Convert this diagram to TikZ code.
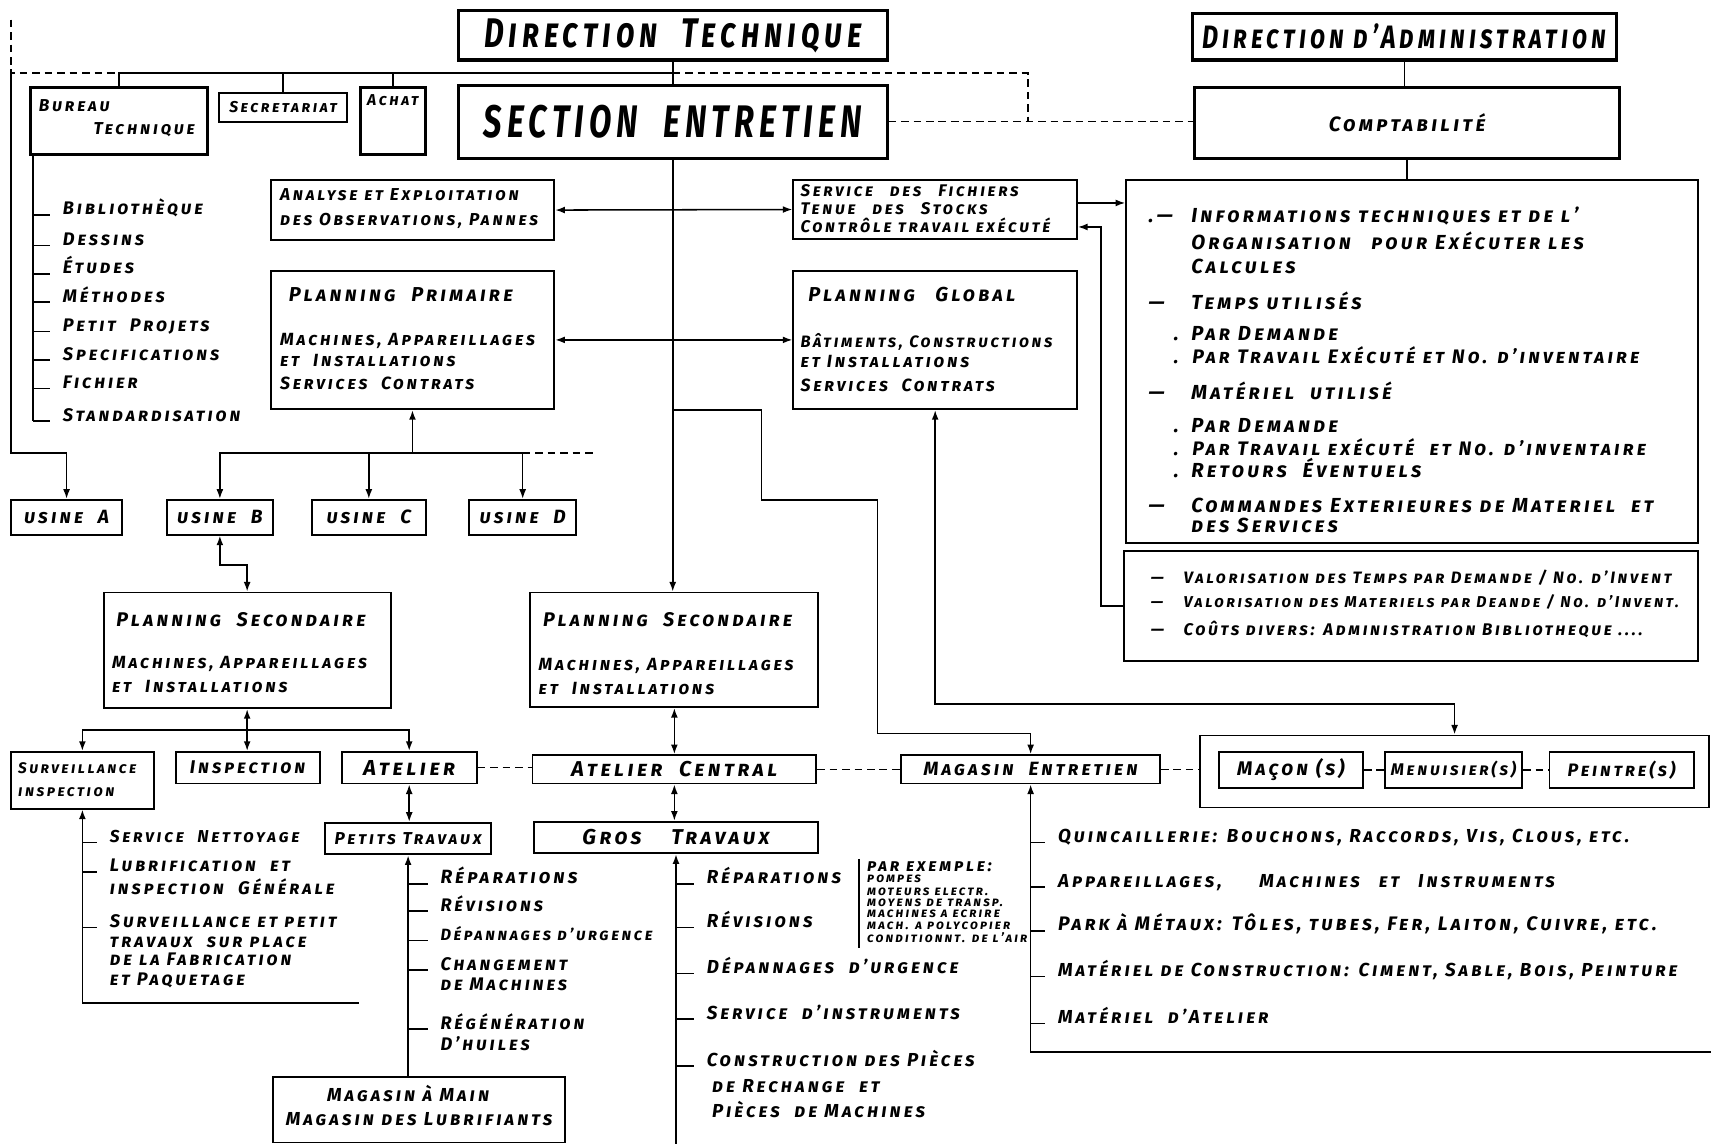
\documentclass[tikz,border=0pt]{standalone}
\usepackage{fontspec}
\newfontfamily\handfont{Fira Sans}[Letters=SmallCaps, LetterSpace=16, Ligatures=TeX]
\usetikzlibrary{positioning}
\usetikzlibrary{arrows.meta}
\usetikzlibrary{calc}
\newcommand{\hand}[2]{\handfont\itshape\bfseries\fontsize{#1}{#2}\selectfont}
\newcommand{\lmark}[2]{\makebox[#1][l]{#2}}

\begin{document}
\begin{tikzpicture}[x=0.02cm, y=-0.02cm, >={Latex[length=5pt,width=3.6pt]}, line width=0.8pt,
box/.style={draw, line width=1pt, inner sep=0pt},
bigbox/.style={draw, line width=1.6pt, inner sep=0pt},
item/.style={anchor=base west, inner xsep=0.22cm, inner ysep=0pt, font=\hand{9.5pt}{11pt}},
txt/.style={anchor=base west, inner sep=0pt, font=\hand{9.2pt}{11pt}},
dashline/.style={dash pattern=on 4pt off 2.5pt}]
\useasboundingbox (0,0) rectangle (1568,1048);

% directions
\node[bigbox, minimum width=7.86cm, minimum height=0.9cm, font=\hand{16pt}{17pt}] (dt) at (616.5,32.5) {\scalebox{1}[1.35]{Direction\ \ Technique}};
\node[bigbox, minimum width=7.76cm, minimum height=0.86cm, font=\hand{13pt}{15pt}] (da) at (1287,33.5) {\scalebox{1}[1.3]{Direction d'Administration}};
\node[bigbox, minimum width=7.86cm, minimum height=1.34cm, font=\hand{17pt}{18pt}] (se) at (616.5,111.5) {\scalebox{1}[1.4]{SECTION\ \ ENTRETIEN}};
\node[bigbox, minimum width=7.78cm, minimum height=1.3cm, font=\hand{10.8pt}{12pt}] (cpt) at (1289.5,112.5) {Comptabilité};

% staff
\node[bigbox, minimum width=3.24cm, minimum height=1.24cm] (bt) at (109,111) {};
\node[txt, font=\hand{9pt}{10pt}] (btt1) at (35,102) {Bureau};
\node[txt, font=\hand{9pt}{10pt}] (btt2) at (85,123) {Technique};
\node[box, minimum width=2.34cm, minimum height=0.54cm, font=\hand{8.2pt}{9pt}] (sec) at (259.5,98.5) {Secretariat};
\node[bigbox, minimum width=1.2cm, minimum height=1.24cm] (ach) at (360,111) {};
\node[below=0.14cm of ach.north, inner sep=0pt, font=\hand{8.2pt}{9pt}] (acht) {Achat};

% bureau technique list
\node[item] (bib) at (46,197) {Bibliothèque};
\node[item] (des) at (46,225) {Dessins};
\node[item] (etu) at (46,251) {Études};
\node[item] (met) at (46,277) {Méthodes};
\node[item] (ppr) at (46,304) {Petit\ \ Projets};
\node[item] (spe) at (46,330) {Specifications};
\node[item] (fch) at (46,356) {Fichier};
\node[item] (std) at (46,386) {Standardisation};

% analyse, fichiers
\node[box, minimum width=5.2cm, minimum height=1.1cm] (ana) at (378,192.5) {};
\node[txt, font=\hand{9pt}{10pt}] (ana1) at (256,184) {Analyse et Exploitation};
\node[txt, font=\hand{9pt}{10pt}] (ana2) at (256,207) {des Observations, Pannes};
\node[box, minimum width=5.2cm, minimum height=1.08cm] (fic) at (857,192) {};
\node[txt, font=\hand{8.8pt}{9pt}] (fic1) at (733,180) {Service\quad des\quad Fichiers};
\node[txt, font=\hand{8.8pt}{9pt}] (fic2) at (733,197) {Tenue\quad des\quad Stocks};
\node[txt, font=\hand{8.8pt}{9pt}] (fic3) at (733,213) {Contrôle travail exécuté};

% planning primaire / global
\node[box, minimum width=5.2cm, minimum height=2.54cm] (pp) at (378,311.5) {};
\node[txt, font=\hand{10.5pt}{12pt}] (ppt) at (264,276) {Planning\ \ Primaire};
\node[txt] (pp1) at (256,317) {Machines, Appareillages};
\node[txt] (pp2) at (256,336) {et\ \ Installations};
\node[txt] (pp3) at (256,357) {Services\ \ Contrats};
\node[box, minimum width=5.2cm, minimum height=2.54cm] (pg) at (857,311.5) {};
\node[txt, font=\hand{10.5pt}{12pt}] (pgt) at (740,276) {Planning\quad Global};
\node[txt, font=\hand{8.6pt}{11pt}] (pg1) at (733,318) {Bâtiments, Constructions};
\node[txt] (pg2) at (733,337) {et Installations};
\node[txt] (pg3) at (733,359) {Services\ \ Contrats};

% comptabilite boxes
\node[box, minimum width=10.48cm, minimum height=6.66cm] (info) at (1294,331.5) {};
\node[txt, font=\hand{10.6pt}{11pt}] (i1) at (1052,204) {\lmark{0.78cm}{.\,---}Informations techniques et de l'};
\node[txt, font=\hand{10.6pt}{11pt}] (i2) at (1091,229) {Organisation\quad pour Exécuter les};
\node[txt, font=\hand{10.6pt}{11pt}] (i3) at (1091,251) {Calcules};
\node[txt, font=\hand{10.6pt}{11pt}] (i4) at (1052,284) {\lmark{0.78cm}{---}Temps utilisés};
\node[txt, font=\hand{10.6pt}{11pt}] (i5) at (1075,312) {\lmark{0.32cm}{.}Par Demande};
\node[txt, font=\hand{10.2pt}{11pt}] (i6) at (1075,333) {\lmark{0.34cm}{.}Par Travail Exécuté et No. d'inventaire};
\node[txt, font=\hand{10.6pt}{11pt}] (i7) at (1052,366) {\lmark{0.78cm}{---}Matériel\ \ utilisé};
\node[txt, font=\hand{10.6pt}{11pt}] (i8) at (1075,396) {\lmark{0.32cm}{.}Par Demande};
\node[txt, font=\hand{10.2pt}{11pt}] (i9) at (1075,417) {\lmark{0.34cm}{.}Par Travail exécuté\ \ et No. d'inventaire};
\node[txt, font=\hand{10.6pt}{11pt}] (i10) at (1075,438) {\lmark{0.32cm}{.}Retours\ \ Éventuels};
\node[txt, font=\hand{10.6pt}{11pt}] (i11) at (1052,470) {\lmark{0.78cm}{---}Commandes Exterieures de Materiel\ \ et};
\node[txt, font=\hand{10.6pt}{11pt}] (i12) at (1091,488) {des Services};
\node[box, minimum width=10.52cm, minimum height=2.02cm] (val) at (1293,555.5) {};
\node[txt, font=\hand{8.6pt}{9pt}] (v1) at (1054,535) {\lmark{0.6cm}{---}Valorisation des Temps par Demande / No. d'Invent};
\node[txt, font=\hand{8.2pt}{9pt}] (v2) at (1054,557) {\lmark{0.6cm}{---}Valorisation des Materiels par Deande / No. d'Invent.};
\node[txt, font=\hand{8.8pt}{9pt}] (v3) at (1054,582) {\lmark{0.6cm}{---}Coûts divers: Administration Bibliotheque ....};

% usines
\node[box, minimum width=2.04cm, minimum height=0.64cm, font=\hand{10pt}{11pt}] (usA) at (61,474) {usine\ \ A};
\node[box, minimum width=1.94cm, minimum height=0.64cm, font=\hand{10pt}{11pt}] (usB) at (201.5,474) {usine\ \ B};
\node[box, minimum width=2.08cm, minimum height=0.64cm, font=\hand{10pt}{11pt}] (usC) at (338,474) {usine\ \ C};
\node[box, minimum width=1.96cm, minimum height=0.64cm, font=\hand{10pt}{11pt}] (usD) at (479,474) {usine\ \ D};

% planning secondaire
\node[box, minimum width=5.26cm, minimum height=2.12cm] (psl) at (226.5,596) {};
\node[txt, font=\hand{10.3pt}{12pt}] (pslt) at (106,574) {Planning\ \ Secondaire};
\node[txt] (psl1) at (102,613) {Machines, Appareillages};
\node[txt] (psl2) at (102,635) {et\ \ Installations};
\node[box, minimum width=5.28cm, minimum height=2.1cm] (psm) at (618,595.5) {};
\node[txt, font=\hand{10.3pt}{12pt}] (psmt) at (497,574) {Planning\ \ Secondaire};
\node[txt] (psm1) at (493,614) {Machines, Appareillages};
\node[txt] (psm2) at (493,636) {et\ \ Installations};

% execution row
\node[box, minimum width=2.62cm, minimum height=1.04cm] (sur) at (75.5,715) {};
\node[txt, font=\hand{8pt}{9pt}] (surb1) at (16,709) {Surveillance};
\node[txt, font=\hand{8pt}{9pt}] (surb2) at (16,730) {inspection};
\node[box, minimum width=2.64cm, minimum height=0.58cm, font=\hand{9.6pt}{10pt}] (ins) at (227,703.5) {Inspection};
\node[box, minimum width=2.48cm, minimum height=0.58cm, font=\hand{11.3pt}{12pt}] (ate) at (375,703.5) {Atelier};
\node[box, minimum width=5.2cm, minimum height=0.52cm, font=\hand{11.2pt}{12pt}] (ac) at (618,705) {Atelier\ \ Central};
\node[box, minimum width=4.74cm, minimum height=0.52cm, font=\hand{10pt}{11pt}] (me) at (944.5,705) {Magasin\ \ Entretien};
\node[box, minimum width=9.32cm, minimum height=1.32cm] (grp) at (1333,707) {};
\node[box, minimum width=2.64cm, minimum height=0.66cm, font=\hand{10.3pt}{11pt}] (mac) at (1183,705.5) {Maçon (s)};
\node[box, minimum width=2.52cm, minimum height=0.66cm, font=\hand{8.8pt}{9pt}] (men) at (1332,705.5) {Menuisier(s)};
\node[box, minimum width=2.64cm, minimum height=0.66cm, font=\hand{9.4pt}{10pt}] (pei) at (1486,705.5) {Peintre(s)};
\node[box, minimum width=3.04cm, minimum height=0.58cm, font=\hand{9pt}{10pt}] (pt) at (374,768.5) {Petits Travaux};
\node[box, minimum width=5.22cm, minimum height=0.58cm, font=\hand{11.2pt}{12pt}] (gt) at (619.5,767.5) {Gros\quad\ Travaux};
\node[box, minimum width=5.36cm, minimum height=1.2cm] (mm) at (384,1017) {};
\node[anchor=base, inner sep=0pt, font=\hand{9.8pt}{10pt}] (mm1) at (374,1009) {Magasin à Main};
\node[anchor=base, inner sep=0pt, font=\hand{9.8pt}{10pt}] (mm2) at (384,1031) {Magasin des Lubrifiants};

% surveillance list
\node[item, font=\hand{9pt}{11pt}] (snet) at (89,772) {Service\ \ Nettoyage};
\node[item] (lub1) at (89,799) {Lubrification\ \ et};
\node[item] (lub2) at (89,820) {inspection\ \ Générale};
\node[item] (svp1) at (89,850) {Surveillance et petit};
\node[item] (svp2) at (89,868) {travaux\ \ sur place};
\node[item] (svp3) at (89,885) {de la Fabrication};
\node[item] (svp4) at (89,903) {et Paquetage};

% petits travaux list
\node[item, font=\hand{10pt}{11pt}] (rep1) at (392,810) {Réparations};
\node[item] (rev1) at (392,835) {Révisions};
\node[item, font=\hand{8.5pt}{10pt}] (dep1) at (392,862) {Dépannages d'urgence};
\node[item] (chg1) at (392,889) {Changement};
\node[item] (chg2) at (392,908) {de Machines};
\node[item] (reg1) at (392,943) {Régénération};
\node[item] (reg2) at (392,963) {D'huiles};

% gros travaux list
\node[item, font=\hand{9.8pt}{11pt}] (grep) at (636,810) {Réparations};
\node[item, font=\hand{9.8pt}{11pt}] (grev) at (636,850) {Révisions};
\node[item, font=\hand{9.8pt}{11pt}] (gdep) at (636,892) {Dépannages\ \ d'urgence};
\node[item, font=\hand{9.8pt}{11pt}] (gser) at (636,934) {Service\ \ d'instruments};
\node[item, font=\hand{9.8pt}{11pt}] (gcon1) at (636,977) {Construction des Pièces};
\node[item, font=\hand{9.8pt}{11pt}] (gcon2) at (641,1001) {de Rechange\ \ et};
\node[item, font=\hand{9.8pt}{11pt}] (gcon3) at (641,1024) {Pièces\ \ de Machines};
\node[txt, font=\hand{9pt}{9pt}] (ex0) at (794,799) {par exemple:};
\node[txt, font=\hand{6.8pt}{7pt}] (ex1) at (794,809) {pompes};
\node[txt, font=\hand{6.8pt}{7pt}] (ex2) at (794,821) {moteurs electr.};
\node[txt, font=\hand{6.8pt}{7pt}] (ex3) at (794,831) {moyens de transp.};
\node[txt, font=\hand{6.8pt}{7pt}] (ex4) at (794,841) {machines a ecrire};
\node[txt, font=\hand{6.8pt}{7pt}] (ex5) at (794,852) {mach. a polycopier};
\node[txt, font=\hand{6.8pt}{7pt}] (ex6) at (794,864) {conditionnt. de l'air};

% magasin list
\node[item, font=\hand{9.8pt}{10pt}] (mq) at (958,772) {Quincaillerie: Bouchons, Raccords, Vis, Clous, etc.};
\node[item, font=\hand{9.8pt}{10pt}] (ma) at (958,813) {Appareillages,\qquad Machines\quad et\quad Instruments};
\node[item, font=\hand{10.2pt}{10pt}] (mp) at (958,853) {Park à Métaux: Tôles, tubes, Fer, Laiton, Cuivre, etc.};
\node[item, font=\hand{9.8pt}{10pt}] (mc) at (958,895) {Matériel de Construction: Ciment, Sable, Bois, Peinture};
\node[item, font=\hand{9.8pt}{10pt}] (md) at (958,938) {Matériel\ \ d'Atelier};

% top links
\coordinate (busl) at (10,67);
\coordinate (topl) at (10,18);
\coordinate (busr) at (616.5,67);
\coordinate (dashj) at (942,111.5);
\draw (dt.south) -- (se.north);
\draw (bt.north) |- (busr);
\draw (sec.north) -- (sec.north |- busr);
\draw (ach.north) -- (ach.north |- busr);
\draw[dashline] (topl) -- (busl) -- (bt.north |- busr);
\draw[dashline] (busr) -| (dashj);
\draw[dashline] (se.east) -- (se.east -| cpt.west);
\draw (da.south) -- (da.south |- cpt.north);
\draw (cpt.south) -- (cpt.south |- info.north);

% bureau technique ticks
\coordinate (btl) at (30,142);
\draw (btl) -- (btl |- std.base west);
\foreach \n in {bib,des,etu,met,ppr,spe,fch,std} \draw (btl |- \n.base west) -- (\n.base west);

% section links
\draw[->] (se.south) -- (se.south |- psm.north);
\draw[<->] (ana.east) -- (fic.west);
\draw[<->] (pp.east) -- (pg.west);
\coordinate (ficout) at ($(fic.east)+(0,-6)$);
\coordinate (ficin) at ($(fic.east)+(0,16)$);
\draw[->] (ficout) -- (ficout -| info.west);
\draw[->] (val.west) -- ++(-20,0) |- (ficin);
\draw[->] (se.south |- pp.south) -| (698,458) -| (804,672) -| (me.north);
\draw[<->] (pg.south) |- ($(grp.north)+(0,-28)$) -- (grp.north);

% usines
\coordinate (pbus) at (378,415);
\coordinate (pbusr) at (546,415);
\draw[->] (busl) |- (usA.north |- pbus) -- (usA.north);
\draw[<-] (pp.south) -- (pbus);
\draw[->] (pbus) -| (usB.north);
\draw[->] (pbus) -| (usD.north);
\draw[->] (usC.north |- pbus) -- (usC.north);
\draw[dashline] (usD.north |- pbus) -- (pbusr);
\draw[<->] (usB.south) -- ++(0,27) -| (psl.north);

% lower links
\coordinate (sbus) at (226.5,669);
\draw[<->] (psl.south) -- (psl.south |- ins.north);
\draw[->] (sbus) -| (sur.north);
\draw[->] (sbus) -| (ate.north);
\draw[<->] (ate.south) -- (ate.south |- pt.north);
\draw[<->] (psm.south) -- (psm.south |- ac.north);
\draw[<->] (ac.south) -- (ac.south |- gt.north);
\draw[dashline] (ate.east) -- (ate.east -| ac.west);
\draw[dashline] (ac.east) -- (me.west);
\draw[dashline] (me.east) -- (me.east -| grp.west);
\draw[dashline] (mac.east) -- (men.west);
\draw[dashline] (men.east) -- (pei.west);

% lists
\coordinate (surend) at (329,919);
\draw[<-] (sur.south) |- (surend);
\foreach \n in {snet,lub1,svp1} \draw (sur.south |- \n.base west) -- (\n.base west);
\draw[<-] (pt.south) -- (pt.south |- mm.north);
\foreach \n in {rep1,rev1,dep1,chg1,reg1} \draw (pt.south |- \n.base west) -- (\n.base west);
\coordinate (gtend) at (619.5,1048);
\draw[<-] (gt.south) -- (gtend);
\foreach \n in {grep,grev,gdep,gser,gcon1} \draw (gt.south |- \n.base west) -- (\n.base west);
\coordinate (exa) at (787,787);
\coordinate (exb) at (787,869);
\draw (exa) -- (exb);
\coordinate (meend) at (1568,964);
\draw[<-] (me.south) |- (meend);
\foreach \n in {mq,ma,mp,mc,md} \draw (me.south |- \n.base west) -- (\n.base west);
\end{tikzpicture}
\end{document}
